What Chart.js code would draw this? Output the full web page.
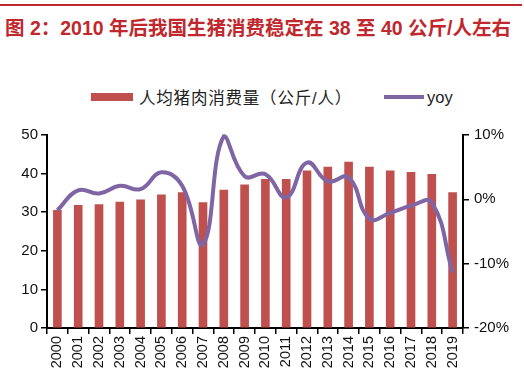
<!DOCTYPE html>
<html><head><meta charset="utf-8">
<script src="https://cdn.jsdelivr.net/npm/chart.js@4"></script>
<style>
html,body{margin:0;padding:0;background:#fff;width:524px;height:382px;overflow:hidden;}
#topline{position:absolute;left:0;top:4px;width:522px;height:2px;background:#C0282D;}
#title{position:absolute;left:5px;top:12px;font:bold 19.5px "Liberation Sans","Noto Sans CJK SC",sans-serif;color:#C0282D;white-space:nowrap;}
#legend{position:absolute;left:91px;top:85px;font:16.5px "Liberation Sans","Noto Sans CJK SC",sans-serif;color:#222;white-space:nowrap;}
.sw{display:inline-block;vertical-align:middle;}
#wrap{position:absolute;left:0;top:0;width:524px;height:382px;}
</style></head>
<body>
<div id="topline"></div>
<div id="title">图 2：2010 年后我国生猪消费稳定在 38 至 40 公斤/人左右</div>
<div id="legend"><span class="sw" style="width:42px;height:8px;background:#C0504D;margin-right:6px;"></span><span style="vertical-align:middle;letter-spacing:0.8px">人均猪肉消费量（公斤/人）</span><span class="sw" style="width:40px;height:4px;background:#7F65A3;margin-left:32px;margin-right:3px;"></span><span style="vertical-align:middle">yoy</span></div>
<div id="wrap"><canvas id="c" width="524" height="382"></canvas></div>
<script>
const years = ["2000","2001","2002","2003","2004","2005","2006","2007","2008","2009","2010","2011","2012","2013","2014","2015","2016","2017","2018","2019"];
const consumption = [30.5,31.8,32.0,32.6,33.2,34.5,35.1,32.5,35.7,37.1,38.5,38.5,40.7,41.7,43.0,41.7,40.7,40.3,39.8,35.1];
const yoy = [-1.7,1.4,0.9,2.1,1.6,4.2,2.1,-7.0,9.8,3.6,3.9,0.3,5.7,2.8,3.4,-3.0,-2.1,-1.0,-0.5,-11.4];
const leftTicks = [0,10,20,30,40,50];
const rightTicks = [-20,-10,0,10];

const font = {family:'"Liberation Sans", Arial, sans-serif', size:15};
new Chart(document.getElementById('c'), {
  data: {
    labels: years,
    datasets: [
      {type:'line', label:'yoy', data:yoy, yAxisID:'y2', borderColor:'#7F65A3', borderWidth:4, pointRadius:0, tension:0.45, fill:false, clip:false, order:0},
      {type:'bar', label:'人均猪肉消费量（公斤/人）', data:consumption, yAxisID:'y', backgroundColor:'#C0504D', barThickness:8, order:1}
    ]
  },
  options: {
    responsive:false, animation:false,
    layout:{padding:{top:135,left:0,right:0,bottom:0}},
    plugins:{legend:{display:false}, tooltip:{enabled:false}},
    scales:{
      x:{
        offset:true,
        grid:{drawOnChartArea:false, offset:true, tickLength:6, color:'#000', lineWidth:1.5},
        border:{color:'#000', width:2},
        ticks:{minRotation:90, maxRotation:90, color:'#111', font:{family:font.family,size:14.5}, padding:2, autoSkip:false},
        afterFit(s){s.height=54;}
      },
      y:{
        position:'left', min:0, max:50,
        afterBuildTicks(s){s.ticks = leftTicks.map(v=>({value:v}));},
        grid:{drawOnChartArea:false, tickLength:6, color:'#000', lineWidth:1.5},
        border:{color:'#000', width:2},
        ticks:{color:'#111', font:font, padding:3},
        afterFit(s){s.width=47;}
      },
      y2:{
        position:'right', min:-20, max:10,
        afterBuildTicks(s){s.ticks = rightTicks.map(v=>({value:v}));},
        grid:{drawOnChartArea:false, tickLength:6, color:'#000', lineWidth:1.5},
        border:{color:'#000', width:2},
        ticks:{color:'#111', font:font, padding:5, callback:v=>v+'%'},
        afterFit(s){s.width=61;}
      }
    }
  }
});
</script>
</body></html>
